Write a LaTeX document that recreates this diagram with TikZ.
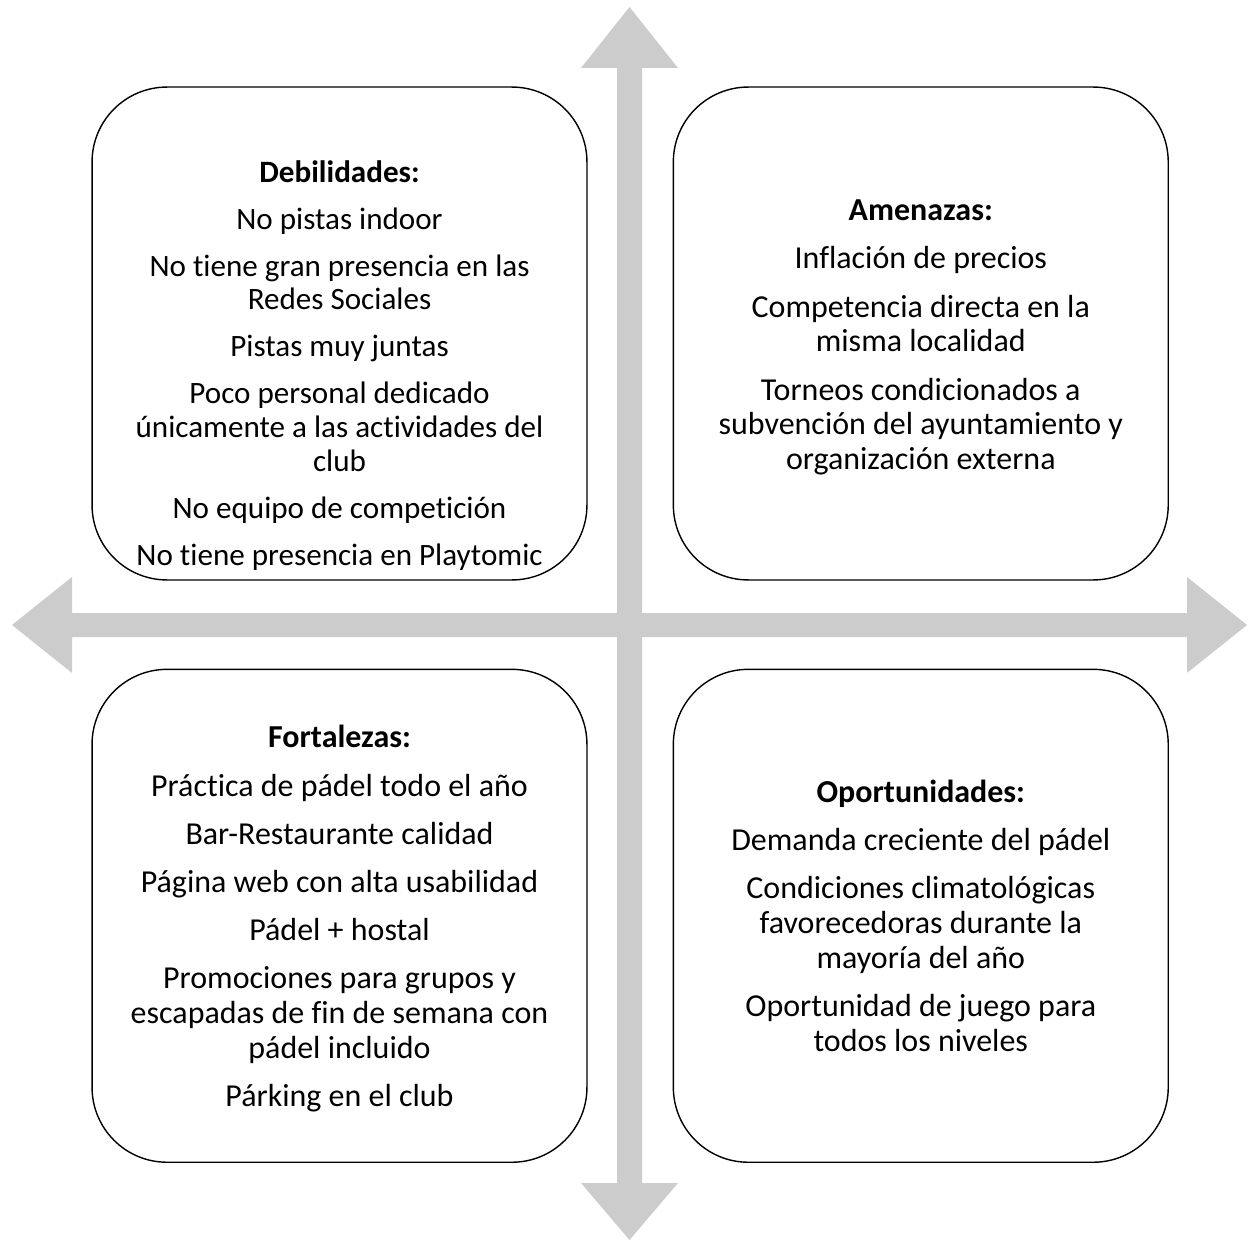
\documentclass[tikz,border=0pt]{standalone}
\usepackage{fontspec}
\setmainfont{Carlito}[Ligatures = NoCommon]
\usetikzlibrary{positioning}

\newcommand{\gapsize}{0.42em}

\begin{document}
\begin{tikzpicture}[x = 0.02cm, y = -0.02cm, % one unit per pixel, y downwards
                line width = 0.8pt, % box outline
                node distance = 1.7cm % gap between the boxes
            ]

            \tikzstyle{box}=[draw = black, rectangle, rounded corners = 1.5cm,
            minimum width = 9.9cm, minimum height = 9.86cm, inner sep = 0pt]
            \tikzstyle{txt}=[align = center, inner sep = 0pt,
            font = \fontsize{18.2pt}{19.8pt}\selectfont]
            \tikzstyle{axis}=[fill = gray!40, draw = none]

            \useasboundingbox (0,0) rectangle (1251,1240);

            % the cross of arrows
            \fill[axis] (617,68) -- (581,68) -- (629.5,7) -- (678,68) --
            (642,68) -- (642,613) -- (1187,613) -- (1187,577) -- (1247,625)
            -- (1187,673) -- (1187,637) -- (642,637) -- (642,1183) --
            (678,1183) -- (629.5,1240) -- (581,1183) -- (617,1183) --
            (617,637) -- (72,637) -- (72,673) -- (12,625) -- (72,577) --
            (72,613) -- (617,613) -- cycle;

            \node[box] (deb) at (339.5,333.5) {};
            \node[box] (ame) [right = of deb] {};
            \node[box] (fort) [below = 1.76cm of deb] {};
            \node[box] (opor) [below = 1.76cm of ame] {};

            % this one is shrunk a little to fit
            \node[txt, font = \fontsize{17.7pt}{19.3pt}\selectfont,
            yshift = -0.64cm] (debtxt) at (deb.center)
            {\textbf{Debilidades:}\\[\gapsize]
            No pistas indoor\\[\gapsize]
            No tiene gran presencia en las\\Redes Sociales\\[\gapsize]
            Pistas muy juntas\\[\gapsize]
            Poco personal dedicado\\únicamente a las actividades del\\club\\[\gapsize]
            No equipo de competición\\[\gapsize]
            No tiene presencia en Playtomic};

            \node[txt, yshift = -0.08cm] (ametxt) at (ame.center)
            {\textbf{Amenazas:}\\[\gapsize]
            Inflación de precios\\[\gapsize]
            Competencia directa en la\\misma localidad\\[\gapsize]
            Torneos condicionados a\\subvención del ayuntamiento y\\organización externa};

            \node[txt, yshift = -0.06cm] (forttxt) at (fort.center)
            {\textbf{Fortalezas:}\\[\gapsize]
            Práctica de pádel todo el año\\[\gapsize]
            Bar-Restaurante calidad\\[\gapsize]
            Página web con alta usabilidad\\[\gapsize]
            Pádel + hostal\\[\gapsize]
            Promociones para grupos y\\escapadas de fin de semana con\\pádel incluido\\[\gapsize]
            Párking en el club};

            \node[txt] (oportxt) at (opor.center)
            {\textbf{Oportunidades:}\\[\gapsize]
            Demanda creciente del pádel\\[\gapsize]
            Condiciones climatológicas\\favorecedoras durante la\\mayoría del año\\[\gapsize]
            Oportunidad de juego para\\todos los niveles};
        \end{tikzpicture}
\end{document}
